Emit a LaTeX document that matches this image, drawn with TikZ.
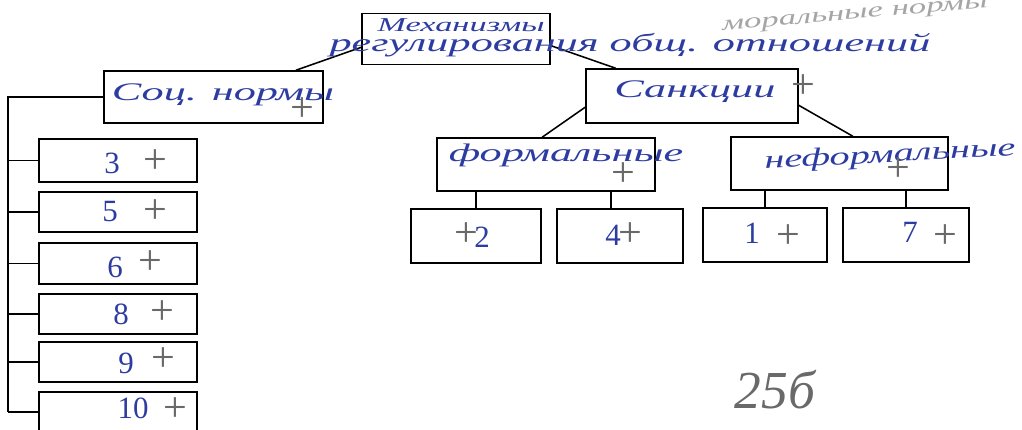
\documentclass[tikz,border=0pt]{standalone}
\usepackage{fontspec}
\setmainfont{Liberation Serif}
\definecolor{inkblue}{RGB}{45,60,160}
\definecolor{pencil}{RGB}{105,105,105}
\definecolor{faint}{RGB}{165,165,165}
\newcommand{\hand}[1]{\scalebox{1.75}[1]{#1}}
\tikzset{
  box/.style={draw, line width=1.1pt, inner sep=0pt},
  wire/.style={line width=1.1pt},
  handtext/.style={text=inkblue, font=\itshape\fontsize{18}{20}\selectfont, inner sep=0pt},
  digit/.style={text=inkblue, font=\fontsize{22}{24}\selectfont, inner sep=0pt},
  plus/.style={text=pencil, font=\fontsize{30}{32}\selectfont, inner sep=0pt},
}
\begin{document}
\begin{tikzpicture}[x=0.025cm,y=-0.025cm]
\useasboundingbox (0,0) rectangle (1022,429);

% ===== Các ô =====
\node[box, minimum width=4.7cm, minimum height=1.275cm] (top) at (456,39) {};
\node[box, minimum width=5.475cm, minimum height=1.3cm] (socn) at (213.5,97) {};
\node[box, minimum width=5.3cm, minimum height=1.35cm] (sank) at (692,96) {};
\node[box, minimum width=5.45cm, minimum height=1.325cm] (form) at (546,164.5) {};
\node[box, minimum width=5.425cm, minimum height=1.325cm] (nform) at (839.5,163.5) {};

\node[box, minimum width=3.25cm, minimum height=1.35cm] (b2) at (476,236) {};
\node[box, minimum width=3.15cm, minimum height=1.35cm] (b4) at (620,236) {};
\node[box, minimum width=3.1cm, minimum height=1.35cm] (b1) at (765,235) {};
\node[box, minimum width=3.15cm, minimum height=1.35cm] (b7) at (906,235) {};

\node[box, minimum width=3.95cm, minimum height=1.075cm] (n3) at (118,160.5) {};
\node[box, minimum width=3.95cm, minimum height=1cm] (n5) at (118,212) {};
\node[box, minimum width=3.95cm, minimum height=1.025cm] (n6) at (118,263.5) {};
\node[box, minimum width=3.95cm, minimum height=1cm] (n8) at (118,314) {};
\node[box, minimum width=3.95cm, minimum height=1cm] (n9) at (118,362) {};
\node[box, minimum width=3.95cm, minimum height=1cm] (n10) at (118,412) {};

% ===== Đường nối =====
\draw[wire] (top.185) -- (socn.18);
\draw[wire] (top.-4) -- (sank.160);
\draw[wire] (sank.186) -- (form.98);
\draw[wire] (sank.-5) -- (nform.64);

\coordinate (rail) at (8,97);
\draw[wire] (socn.west) -- (rail) -- (rail |- n10.west);
\foreach \n in {n3,n5,n6,n8,n9,n10} {
    \draw[wire] (rail |- \n.west) -- (\n.west);
}

\coordinate (b4top) at ([xshift=-0.225cm]b4.north);
\draw[wire] (b2.north) -- (b2.north |- form.south);
\draw[wire] (b4top) -- (b4top |- form.south);
\draw[wire] (b1.north) -- (b1.north |- nform.south);
\draw[wire] (b7.north) -- (b7.north |- nform.south);

% ===== Chữ viết tay =====
\node[handtext, font=\itshape\fontsize{14}{16}\selectfont] (t1) at (461,25) {\hand{Механизмы}};
\node[handtext] (t2) at (630,45) {\hand{регулирования общ. отношений}};
\node[handtext, text=faint, font=\itshape\fontsize{15}{17}\selectfont, anchor=west, rotate=5] (t3) at (722,28) {\scalebox{1.65}[1]{моральные нормы}};
\node[handtext] (t4) at (223,95) {\hand{Соц. нормы}};
\node[handtext] (t5) at (695,92) {\hand{Санкции}};
\node[handtext] (t6) at (566,155) {\hand{формальные}};
\node[handtext, rotate=3] (t7) at (890,156) {\scalebox{1.6}[1]{неформальные}};

\node[digit] (d3) at (112,163) {3};
\node[digit] (d5) at (110,212) {5};
\node[digit] (d6) at (115,267) {6};
\node[digit] (d8) at (121,314) {8};
\node[digit] (d9) at (126,363) {9};
\node[digit] (d10) at (133,408) {10};
\node[digit] (d2) at (482,237) {2};
\node[digit] (d4) at (613,235) {4};
\node[digit] (d1) at (752,233) {1};
\node[digit] (d7) at (910,232) {7};

% ===== Dấu cộng =====
\node[plus] (p3) at (155,162) {+};
\node[plus] (p5) at (155,212) {+};
\node[plus] (p6) at (150,263) {+};
\node[plus] (p8) at (162,313) {+};
\node[plus] (p9) at (163,360) {+};
\node[plus] (p10) at (175,410) {+};
\node[plus] (p2) at (466,235) {+};
\node[plus] (p4) at (630,235) {+};
\node[plus] (p1) at (788,237) {+};
\node[plus] (p7) at (945,237) {+};
\node[plus] (psocn) at (302,110) {+};
\node[plus] (psank) at (803,87) {+};
\node[plus] (pform) at (623,175) {+};
\node[plus] (pnform) at (898,170) {+};

\node[text=pencil, font=\itshape\fontsize{38}{40}\selectfont, inner sep=0pt] (mark) at (775,390) {25б};

\end{tikzpicture}
\end{document}
